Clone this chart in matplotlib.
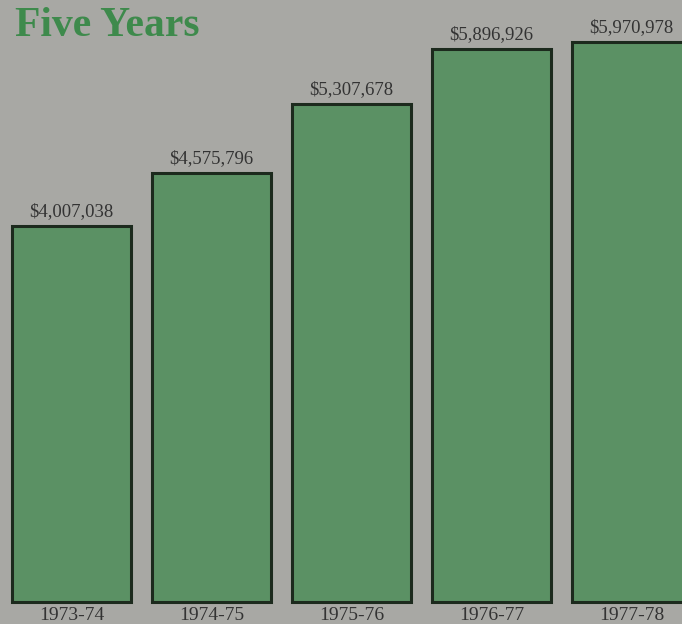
import matplotlib.pyplot as plt
import numpy as np

years = ["1973-74", "1974-75", "1975-76", "1976-77", "1977-78"]
totals = [4007038, 4575796, 5307678, 5896926, 5970978]

bg = "#a8a8a4"
bar_green = "#5b9164"
title_green = "#3e8a4c"

fig = plt.figure(figsize=(6.82, 6.24), dpi=100, facecolor=bg)
ax = fig.add_axes([0, 0, 1, 1])
ax.set_facecolor(bg)

x = np.arange(len(years))
bars = ax.bar(x, totals, width=0.85, color=bar_green, edgecolor="#1c2a1d", linewidth=2.2)

# dollar labels over each bar
ax.bar_label(bars, labels=["${:,}".format(v) for v in totals], padding=4,
             fontsize=13.5, family="Liberation Serif", color="#333333")

# year labels under the bars
for i, yr in enumerate(years):
    ax.annotate(yr, xy=(i, 0), xytext=(0, -10), textcoords="offset points",
                ha="center", va="center", fontsize=14,
                family="Liberation Serif", color="#333333")

# pixel mapping: 140 px per bar slot, first bar centred at 71.5 px
ax.set_xlim(-71.5 / 140, (682 - 71.5) / 140)
scale = 1e6 / 93.8
ax.set_ylim(-22 * scale, 602 * scale)
ax.axis("off")

fig.text(0.022, 0.958, "Five Years", ha="left", va="center", fontsize=30,
         fontweight="bold", family="Liberation Serif", color=title_green)

fig.savefig("out.png", dpi=100, facecolor=bg)
